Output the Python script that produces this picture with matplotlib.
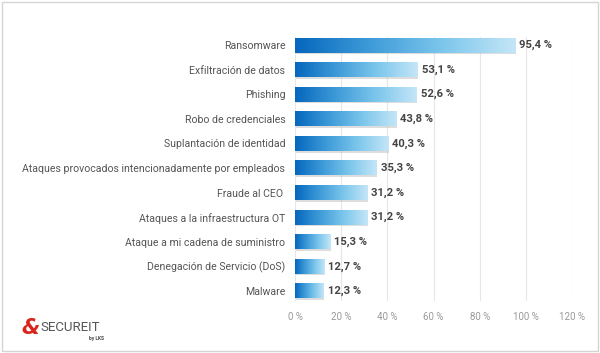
import matplotlib.pyplot as plt
import numpy as np
from matplotlib.colors import LinearSegmentedColormap
from matplotlib.patches import Rectangle

categorias = ['Ransomware', 'Exfiltración de datos', 'Phishing', 'Robo de credenciales',
              'Suplantación de identidad', 'Ataques provocados intencionadamente por empleados',
              'Fraude al CEO ', 'Ataques a la infraestructura OT', 'Ataque a mi cadena de suministro',
              'Denegación de Servicio (DoS)', 'Malware']
valores = [95.4, 53.1, 52.6, 43.8, 40.3, 35.3, 31.2, 31.2, 15.3, 12.7, 12.3]
ticks = [0, 20, 40, 60, 80, 100, 120]

plt.rcParams['font.family'] = ['Roboto', 'DejaVu Sans']

fig = plt.figure(figsize=(6, 3.53), dpi=100)
ax = fig.add_axes([0.4917, 0.148, 0.4617, 0.747])

grad = LinearSegmentedColormap.from_list('g', ['#0567bd', '#3d9ad8', '#7cc6ec', '#c4e6f7'])
gimg = np.linspace(0, 1, 256).reshape(1, -1)
h = 0.6
for i, v in enumerate(valores):
    # sombra
    ax.add_patch(Rectangle((0.3, i - h / 2 + 0.07), v, h, facecolor='#bcbcbc', alpha=0.5,
                           edgecolor='none', zorder=2))
    ax.imshow(gimg, cmap=grad, aspect='auto', extent=(0, v, i + h / 2, i - h / 2),
              zorder=3, interpolation='bilinear')
    ax.text(v + 1.8, i, f'{v:.1f} %'.replace('.', ','), va='center', ha='left',
            fontsize=8.1, fontweight='bold', color='#444444')

ax.set_xlim(0, 120)
ax.set_ylim(10.4, -0.33)
ax.set_yticks(range(len(categorias)))
ax.set_yticklabels(categorias, fontsize=7.6, color='#555555')
ax.set_xticks(ticks)
ax.set_xticklabels([f'{t} %' for t in ticks], fontsize=7, color='#999999')
ax.tick_params(axis='y', length=0, pad=7)
ax.tick_params(axis='x', length=0, pad=8)
ax.grid(axis='x', color='#e6e6e6', linewidth=0.8, zorder=0)
ax.set_axisbelow(True)
for s in ax.spines.values():
    s.set_visible(False)

# borde
fig.patches.append(Rectangle((0.004, 0.006), 0.992, 0.988, transform=fig.transFigure,
                             fill=False, edgecolor='#d5d5d5', linewidth=1))

# logo
fig.text(0.035, 0.072, '&', color='#d9261c', fontsize=15, fontweight='bold', style='italic',
         va='center', ha='left', family='DejaVu Sans')
fig.text(0.068, 0.072, 'SECUREIT', color='#555555', fontsize=9.5, va='center', ha='left')
fig.text(0.148, 0.040, 'by LKS', color='#444444', fontsize=3.5, fontweight='bold',
         va='center', ha='left')

fig.savefig('out.png', dpi=100)
